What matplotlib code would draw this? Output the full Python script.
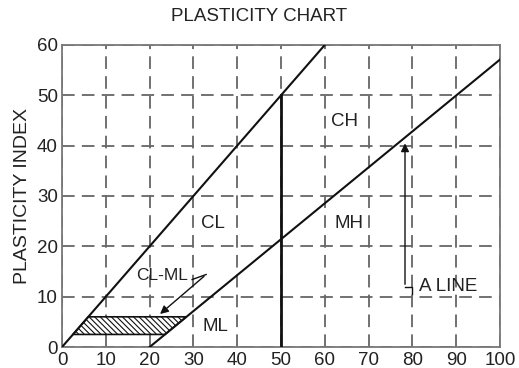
import numpy as np
import matplotlib.pyplot as plt

plt.rcParams['font.family'] = ['Liberation Sans', 'DejaVu Sans']
plt.rcParams['hatch.linewidth'] = 0.8

# boundary lines of the chart (liquid limit, plasticity index)
u_line_ll = [0, 60]
u_line_pi = [0, 60]
a_line_ll = [20, 100]
a_line_pi = [0, 57.1]
ll_split = [50, 50]
ll_split_pi = [0, 50]

# CL-ML hatched band
band_pi_low = 2.5
band_pi_high = 6.0

# zone labels
zone_names = ['CL', 'CH', 'MH', 'ML']
zone_ll = [34.4, 64.6, 65.5, 35.1]
zone_pi = [24.6, 44.7, 24.6, 4.0]

ticks_x = np.arange(0, 101, 10)
ticks_y = np.arange(0, 61, 10)


def a_line_at(pi):
    return a_line_ll[0] + pi * (a_line_ll[1] - a_line_ll[0]) / (a_line_pi[1] - a_line_pi[0])


fig = plt.figure(figsize=(5.19, 3.68), dpi=100)
ax = fig.add_axes([0.1195, 0.057, 0.844, 0.821])

ax.set_xlim(0, 100)
ax.set_ylim(0, 60)
ax.set_xticks(ticks_x)
ax.set_yticks(ticks_y)
ax.tick_params(length=0, labelsize=13.5, labelcolor='#222222')
ax.tick_params(axis='x', pad=3.5)
ax.tick_params(axis='y', pad=3)
ax.grid(True, color='#666666', lw=1.3, ls=(0, (7, 4)))
for s in ax.spines.values():
    s.set_color('#777777')
    s.set_linewidth(1.3)

# hatched CL-ML band between the U line (y=x) and the A line
band_x = [band_pi_low, band_pi_high, a_line_at(band_pi_high), a_line_at(band_pi_low)]
band_y = [band_pi_low, band_pi_high, band_pi_high, band_pi_low]
ax.fill(band_x, band_y, facecolor='white', edgecolor='#111111', hatch='\\\\\\\\\\\\', lw=1.2, zorder=3)

ax.plot(u_line_ll, u_line_pi, color='#111111', lw=1.5, zorder=4)
ax.plot(a_line_ll, a_line_pi, color='#111111', lw=1.5, zorder=4)
ax.plot(ll_split, ll_split_pi, color='#111111', lw=2, zorder=4)

for name, x, y in zip(zone_names, zone_ll, zone_pi):
    ax.text(x, y, name, fontsize=13.5, ha='center', va='center', color='#222222', zorder=5)

# CL-ML leader
ax.text(22.8, 14.3, 'CL-ML', fontsize=12.5, ha='center', va='center', color='#222222', zorder=5)
ax.plot([29.7, 32.9], [13.4, 14.4], color='#111111', lw=1, zorder=5)
ax.annotate('', xy=(21.9, 6.2), xytext=(32.9, 14.4),
            arrowprops=dict(arrowstyle='-|>', color='#111111', lw=1, mutation_scale=12), zorder=5)

# A LINE leader
ax.text(81.5, 12, 'A LINE', fontsize=13.5, ha='left', va='center', color='#222222', zorder=5)
ax.plot([80, 80, 78.3], [10.6, 11.9, 11.9], color='#111111', lw=1, zorder=5)
ax.annotate('', xy=(78.3, 41.0), xytext=(78.3, 11.9),
            arrowprops=dict(arrowstyle='-|>', color='#111111', lw=1, mutation_scale=12), zorder=5)

ax.set_ylabel('PLASTICITY INDEX', fontsize=14, color='#222222', labelpad=4)
fig.text(0.5, 0.954, 'PLASTICITY CHART', fontsize=13.5, ha='center', va='center', color='#222222')

fig.savefig('out.png', dpi=100)
